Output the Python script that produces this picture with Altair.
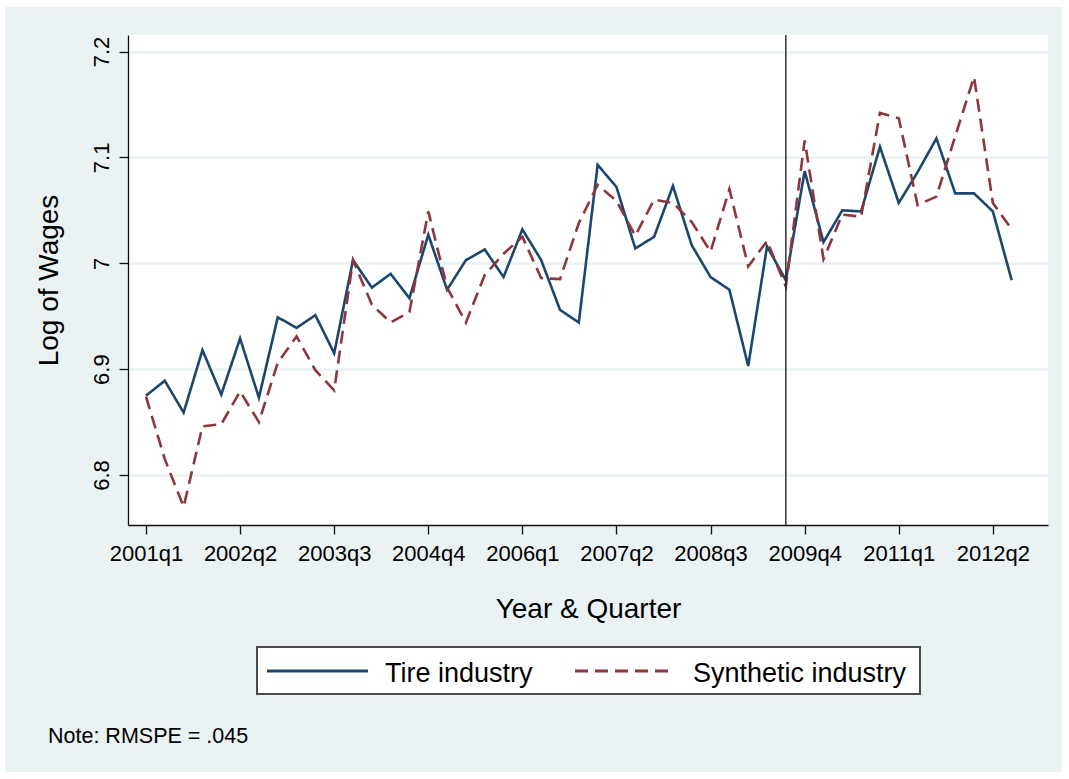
import json
import altair as alt
import pandas as pd

# ---------------- data ----------------
quarters = [f"{y}q{q}" for y in range(2001, 2013) for q in range(1, 5)][:47]

tire = [6.875, 6.889, 6.859, 6.918, 6.876, 6.929, 6.873, 6.949, 6.939, 6.951,
        6.915, 7.003, 6.977, 6.990, 6.967, 7.027, 6.975, 7.003, 7.013, 6.987,
        7.032, 7.003, 6.956, 6.944, 7.093, 7.072, 7.014, 7.025, 7.073, 7.017,
        6.987, 6.975, 6.903, 7.016, 6.984, 7.087, 7.020, 7.050, 7.049, 7.110,
        7.057, 7.086, 7.118, 7.066, 7.066, 7.049, 6.984]

synthetic = [6.874, 6.815, 6.770, 6.846, 6.848, 6.879, 6.850, 6.906, 6.931, 6.899,
             6.880, 7.003, 6.961, 6.944, 6.954, 7.049, 6.977, 6.944, 6.989, 7.009,
             7.025, 6.986, 6.985, 7.038, 7.074, 7.059, 7.026, 7.060, 7.057, 7.039,
             7.011, 7.070, 6.997, 7.021, 6.978, 7.116, 7.004, 7.046, 7.044, 7.142,
             7.137, 7.055, 7.063, 7.120, 7.176, 7.057, 7.032]

series_names = ["Tire industry", "Synthetic industry"]
series_colors = ["#1A476F", "#90353B"]
series_dashes = [[1, 0], [13, 7]]

x_tick_labels = ["2001q1", "2002q2", "2003q3", "2004q4", "2006q1",
                 "2007q2", "2008q3", "2009q4", "2011q1", "2012q2"]
y_tick_values = [6.8, 6.9, 7.0, 7.1, 7.2]
treatment_quarter = "2009q3"
note_text = "Note: RMSPE = .045"
x_title = "Year & Quarter"
y_title = "Log of Wages"

# ---------------- tables ----------------
rows = []
for name, vals in zip(series_names, [tire, synthetic]):
    for i, (q, v) in enumerate(zip(quarters, vals)):
        rows.append({"t": i, "quarter": q, "series": name, "value": v})
df = pd.DataFrame(rows)
event_df = pd.DataFrame({"t": [quarters.index(treatment_quarter)], "quarter": [treatment_quarter]})
one = pd.DataFrame({"a": [0]})

FONT = "Liberation Sans"
W, H = 920, 490

x_scale = alt.Scale(domain=[-0.956, 47.93], nice=False, zero=False)
y_scale = alt.Scale(domain=[6.7528, 7.2156], nice=False, zero=False)

x_axis = alt.Axis(
    values=[quarters.index(l) for l in x_tick_labels],
    labelExpr=json.dumps(quarters) + "[datum.value]",
    title=x_title, grid=False, tickSize=9, labelPadding=9,
    labelFontSize=22, titleFontSize=28, titleFontWeight="normal",
    titleBaseline="alphabetic", titleY=92,
    domainColor="#111111", tickColor="#111111", domainWidth=1.3, tickWidth=1.3,
    labelColor="black", titleColor="black", labelFont=FONT, titleFont=FONT,
    labelFlush=False, labelOverlap=False,
)
y_axis = alt.Axis(
    values=y_tick_values, format=".2~g", title=y_title,
    labelAngle=270, labelAlign="center", labelBaseline="alphabetic",
    tickSize=9, labelPadding=11, labelFontSize=22,
    titleFontSize=28, titleFontWeight="normal", titleAngle=270,
    titleBaseline="alphabetic", titleX=-71, titleY=H / 2, titleAlign="center",
    grid=True, gridColor="#EAF2F3", gridWidth=2.5,
    domainColor="#111111", tickColor="#111111", domainWidth=1.3, tickWidth=1.3,
    labelColor="black", titleColor="black", labelFont=FONT, titleFont=FONT,
    labelFlush=False, labelOverlap=False,
)

lines = alt.Chart(df).mark_line(strokeWidth=2.6).encode(
    x=alt.X("t:Q", scale=x_scale, axis=x_axis),
    y=alt.Y("value:Q", scale=y_scale, axis=y_axis),
    color=alt.Color("series:N", scale=alt.Scale(domain=series_names, range=series_colors), legend=None),
    strokeDash=alt.StrokeDash("series:N", scale=alt.Scale(domain=series_names, range=series_dashes), legend=None),
    detail="series:N",
)

event = alt.Chart(event_df).mark_rule(color="#222222", strokeWidth=1.4).encode(
    x=alt.X("t:Q", scale=x_scale, axis=x_axis)
)

# outer white frame
frame = alt.Chart(one).mark_rect(fillOpacity=0, stroke="white", strokeWidth=14).encode(
    x=alt.value(-130), x2=alt.value(941), y=alt.value(-35), y2=alt.value(744)
)

# legend (drawn manually)
legend_box = alt.Chart(one).mark_rect(fill="white", stroke="#4a4a4a", strokeWidth=2).encode(
    x=alt.value(129), x2=alt.value(792), y=alt.value(612), y2=alt.value(659)
)
legend_layers = []
sample_x = [(139, 240), (447, 547)]
text_x = [257, 565]
for name, col, dash, (sx, sx2), tx in zip(series_names, series_colors, series_dashes, sample_x, text_x):
    legend_layers.append(
        alt.Chart(one).mark_rule(color=col, strokeWidth=3, strokeDash=dash).encode(
            x=alt.value(sx), x2=alt.value(sx2), y=alt.value(636)
        )
    )
    legend_layers.append(
        alt.Chart(one).mark_text(text=name, font=FONT, fontSize=27, align="left",
                                 baseline="alphabetic", color="black").encode(
            x=alt.value(tx), y=alt.value(647)
        )
    )

note = alt.Chart(one).mark_text(text=note_text, font=FONT, fontSize=21.5, align="left",
                                baseline="alphabetic", color="black").encode(
    x=alt.value(-80), y=alt.value(708)
)

chart = alt.layer(lines, event, frame, legend_box, *legend_layers, note).properties(
    width=W, height=H,
    autosize=alt.AutoSizeParams(type="none"),
    padding={"left": 128, "top": 35, "right": 1069 - 128 - W, "bottom": 779 - 35 - H},
    background="#EAF2F3",
).configure_view(fill="white", stroke=None)

chart.save("out.html", embed_options={"renderer": "svg", "actions": False})
